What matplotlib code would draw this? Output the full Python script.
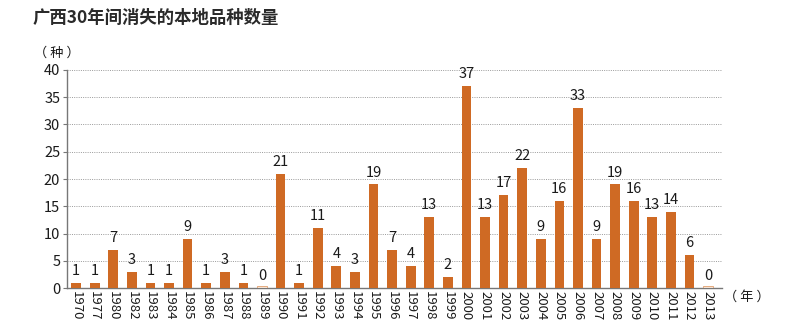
import matplotlib
matplotlib.use("Agg")
import matplotlib.pyplot as plt
from matplotlib.patches import Rectangle

plt.rcParams['font.family'] = ['Noto Sans CJK SC', 'DejaVu Sans']

years = ["1970", "1977", "1980", "1982", "1983", "1984", "1985", "1986", "1987", "1988",
         "1989", "1990", "1991", "1992", "1993", "1994", "1995", "1996", "1997", "1998",
         "1999", "2000", "2001", "2002", "2003", "2004", "2005", "2006", "2007", "2008",
         "2009", "2010", "2011", "2012", "2013"]
counts = [1, 1, 7, 3, 1, 1, 9, 1, 3, 1,
          0, 21, 1, 11, 4, 3, 19, 7, 4, 13,
          2, 37, 13, 17, 22, 9, 16, 33, 9, 19,
          16, 13, 14, 6, 0]
y_ticks = [0, 5, 10, 15, 20, 25, 30, 35, 40]

bar_color = "#cf6a24"
text_color = "#1a1a1a"
fig = plt.figure(figsize=(8, 3.3), dpi=100)
ax = fig.add_axes([0.084, 0.127, 0.8185, 0.661])

x = list(range(len(years)))
ax.bar(x, counts, width=0.52, color=bar_color, zorder=3)
# zero-valued years get a faint placeholder sliver
for xi, v in zip(x, counts):
    if v == 0:
        ax.add_patch(Rectangle((xi - 0.26, 0), 0.52, 0.35, facecolor="#f6e2d2",
                               edgecolor="#e0a070", linewidth=0.6, zorder=3))
    ax.text(xi, v + 0.9, str(v), ha="center", va="bottom", fontsize=10.5,
            fontweight="medium", color=text_color)

ax.set_ylim(0, 40)
ax.set_xlim(-0.48, 34.75)
ax.set_yticks(y_ticks)
ax.set_yticklabels([str(t) for t in y_ticks], fontsize=10.5, fontweight="medium",
                   color=text_color)
ax.set_xticks(x)
ax.set_xticklabels(years, rotation=270, fontsize=9.5, fontweight="medium", color=text_color)
ax.tick_params(axis="x", length=0, pad=2)
ax.tick_params(axis="y", length=3, width=0.8, color="#777777", pad=2)

for t in y_ticks[1:]:
    ax.axhline(t, color="#9a9a9a", linestyle=(0, (1.0, 1.3)), linewidth=0.7, zorder=1)

for s in ["top", "right"]:
    ax.spines[s].set_visible(False)
ax.spines["left"].set_color("#777777")
ax.spines["bottom"].set_color("#777777")
ax.spines["left"].set_linewidth(1.0)
ax.spines["bottom"].set_linewidth(1.0)

fig.text(0.041, 0.945, "广西30年间消失的本地品种数量", fontsize=12.5, fontweight="bold",
         color="#2a2a2a", ha="left", va="center")
fig.text(0.043, 0.84, "（ 种 ）", fontsize=9.5, fontweight="medium", color=text_color,
         ha="left", va="center")
fig.text(0.905, 0.1, "（ 年 ）", fontsize=9.5, fontweight="medium", color=text_color,
         ha="left", va="center")

fig.savefig("out.png", dpi=100, facecolor="white")
